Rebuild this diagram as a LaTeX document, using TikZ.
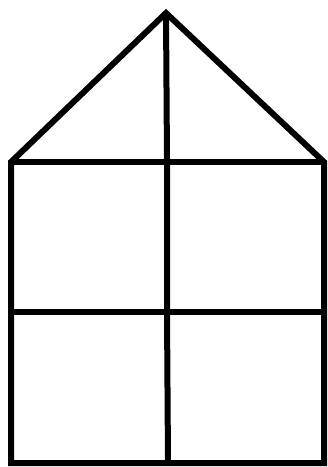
\documentclass[tikz,border=0pt]{standalone}
\begin{document}
\begin{tikzpicture}[x=1pt,y=-1pt,
  wall/.style={line width=6pt, line join=miter, line cap=butt}]
\useasboundingbox (0,0) rectangle (328,467);
\coordinate (apex) at (166,13);
\coordinate (el) at (11,162);
\coordinate (er) at (324,162);
\coordinate (ml) at (11,312);
\coordinate (mr) at (324,312);
\coordinate (bl) at (11,463);
\coordinate (br) at (324,463);
\coordinate (mc) at (167,312);
\coordinate (bc) at (168,463);
\coordinate (ec) at (167,162);
\draw[wall] (er) -- (apex) -- (el) -- (bl) -- (br) -- cycle;
\draw[wall] (el) -- (er);
\draw[wall] (ml) -- (mr);
\draw[wall] (apex) -- (ec) -- (mc) -- (bc);
\end{tikzpicture}
\end{document}
